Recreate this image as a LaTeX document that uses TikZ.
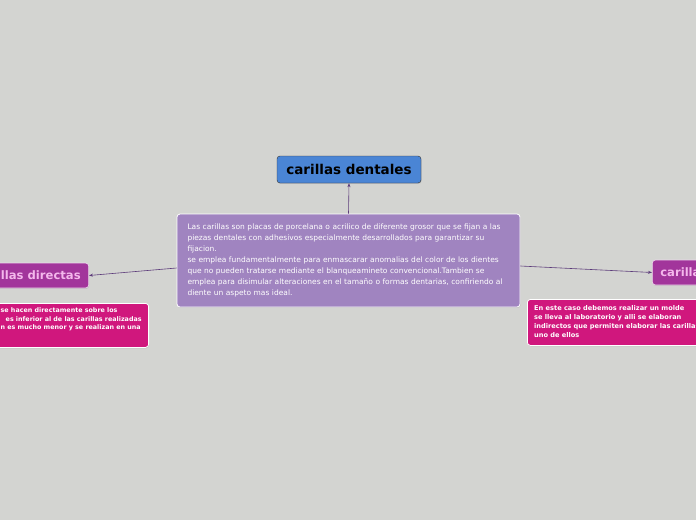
\documentclass[tikz,border=0pt]{standalone}
\usepackage{fontspec}
\setmainfont{DejaVu Sans}
\usetikzlibrary{arrows.meta}
\usetikzlibrary{shadows}
\definecolor{bgc}{HTML}{D3D4D1}
\definecolor{titlec}{HTML}{4A85D5}
\definecolor{mainc}{HTML}{A084C0}
\definecolor{branchc}{HTML}{A2359B}
\definecolor{branchtxt}{HTML}{F4B8EC}
\definecolor{leafc}{HTML}{D0177D}
\definecolor{linkc}{HTML}{5C3B7A}

\begin{document}
\begin{tikzpicture}[x=1pt,y=-1pt,
  box/.style={rectangle,rounded corners=3pt,inner sep=0pt,
    drop shadow={shadow xshift=0.5pt,shadow yshift=-0.9pt,opacity=0.25}},
  link/.style={draw=linkc,line width=0.6pt,-{Stealth[length=4pt,width=3pt]}}]
\fill[bgc] (0,0) rectangle (696,520);
\useasboundingbox (0,0) rectangle (696,520);
\clip (0,0) rectangle (696,520);

% topic
\node[box,draw=black!80,fill=titlec,minimum width=144,minimum height=27,
  font=\fontsize{13.5}{16}\selectfont\bfseries] (title) at (349,169.5) {carillas dentales};

% main text
\node[box,draw=white,line width=0.8pt,fill=mainc,minimum width=343,minimum height=93,
  text=white,align=left,text width=322,font=\fontsize{7.5}{11}\selectfont] (main) at (348.5,260.5)
  {Las carillas son placas de porcelana o acrilico de diferente grosor que se fijan a las\\
   piezas dentales con adhesivos especialmente desarrollados para garantizar su\\
   fijacion.\\
   se emplea fundamentalmente para enmascarar anomalias del color de los dientes\\
   que no pueden tratarse mediante el blanqueamineto convencional.Tambien se\\
   emplea para disimular alteraciones en el tamaño o formas dentarias, confiriendo al\\
   diente un aspeto mas ideal.};

% branches
\node[box,draw=white!80!branchc,line width=0.7pt,fill=branchc,text=branchtxt,
  minimum height=25,inner xsep=8pt,anchor=east,
  font=\fontsize{11.6}{13}\selectfont\bfseries] (direct) at (89,275.5) {carillas directas};
\node[box,draw=white!80!branchc,line width=0.7pt,fill=branchc,text=branchtxt,
  minimum height=25,inner xsep=8pt,anchor=west,
  font=\fontsize{11.6}{13}\selectfont\bfseries] (indirect) at (652,272.5) {carillas indirectas};

% leaves
\node[box,draw=white,line width=0.8pt,fill=leafc,minimum width=180,minimum height=44,
  anchor=north east] (directleaf) at (149,303) {};
\node[text=white,align=left,anchor=north west,inner sep=0pt,
  font=\fontsize{6.35}{8.7}\selectfont\bfseries] (directtxt) at (0.5,307.5)
  {se hacen directamente sobre los\\
   \hspace{5pt}es inferior al de las carillas realizadas\\
   n es mucho menor y se realizan en una};

\node[box,draw=white,line width=0.8pt,fill=leafc,minimum width=200,minimum height=46,
  anchor=north west] (indirectleaf) at (527,299) {};
\node[text=white,align=left,anchor=north west,inner sep=0pt,
  font=\fontsize{6.6}{9}\selectfont\bfseries] (indirecttxt) at (534,305.5)
  {En este caso debemos realizar un molde\\
   se lleva al laboratorio y alli se elaboran\\
   indirectos que permiten elaborar las carillas\\
   uno de ellos};

% connectors
\draw[link] (main.north) -- (title.south);
\draw[link] ([yshift=-7.5]main.west) -- (direct.east);
\draw[link] ([yshift=-5.5]main.east) -- (indirect.west);
\end{tikzpicture}
\end{document}
